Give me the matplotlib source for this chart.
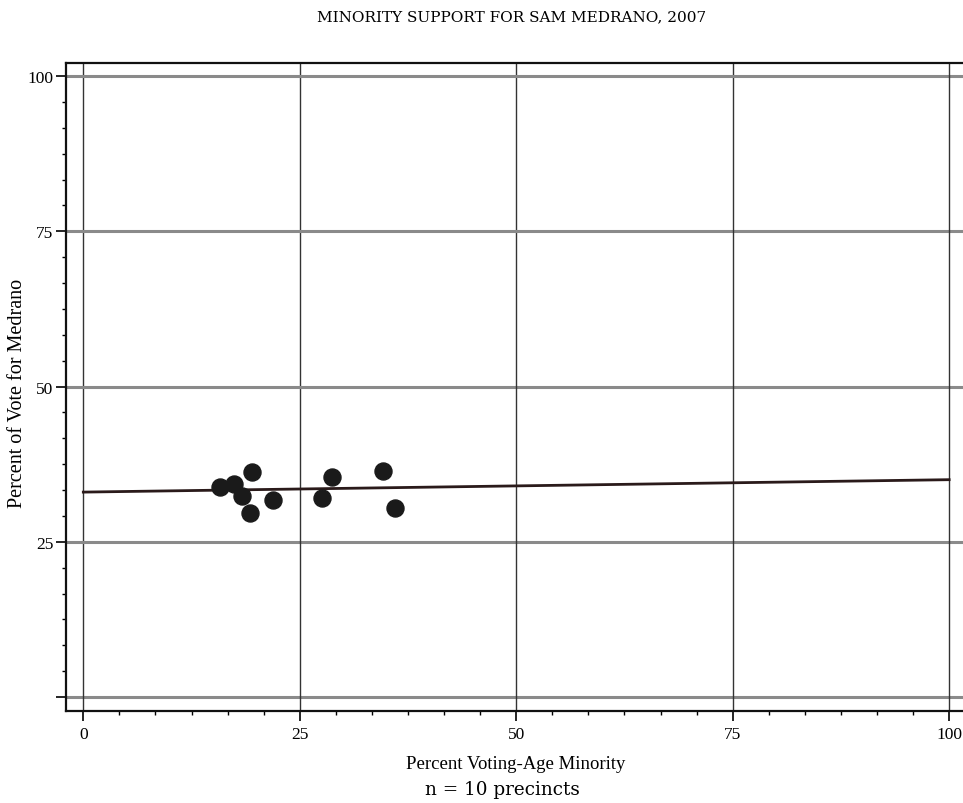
import matplotlib
matplotlib.use("Agg")
import matplotlib.pyplot as plt
from matplotlib.ticker import AutoMinorLocator

# Data
minority_pct = [15.8, 17.4, 18.3, 19.5, 19.3, 21.9, 28.7, 27.6, 34.6, 36.0]
vote_pct = [33.8, 34.3, 32.3, 36.3, 29.6, 31.8, 35.5, 32.1, 36.4, 30.5]
fit_x = [0, 100]
fit_y = [33.0, 35.0]
ticks = [0, 25, 50, 75, 100]
x_tick_labels = ["0", "25", "50", "75", "100"]
y_tick_labels = ["", "25", "50", "75", "100"]

plt.rcParams['font.family'] = ['Liberation Serif', 'DejaVu Serif']

fig = plt.figure(figsize=(9.63, 8.04), dpi=100)
ax = fig.add_axes([66/963, 1-712/804, (963-66)/963, (712-64)/804])

ax.set_xlim(-2.0, 101.6)
ax.set_ylim(-2.25, 102.1)

for t in ticks:
    ax.axhline(t, color="#8a8a8a", lw=2.2, zorder=1)
    ax.axvline(t, color="#333333", lw=1.0, zorder=1)

ax.plot(fit_x, fit_y, color="#2a1a1a", lw=2.0, zorder=2)
ax.scatter(minority_pct, vote_pct, s=150, color="#1a1a1a", zorder=3)

ax.set_xticks(ticks)
ax.set_xticklabels(x_tick_labels)
ax.set_yticks(ticks)
ax.set_yticklabels(y_tick_labels)
ax.xaxis.set_minor_locator(AutoMinorLocator(6))
ax.yaxis.set_minor_locator(AutoMinorLocator(6))
ax.tick_params(which="major", direction="out", length=7, width=1.2, labelsize=12.5)
ax.tick_params(axis="x", which="major", pad=4)
ax.tick_params(axis="y", which="major", pad=2)
ax.tick_params(which="minor", direction="out", length=3, width=1.0)

for s in ax.spines.values():
    s.set_linewidth(1.6)
    s.set_color("#111111")
ax.spines["right"].set_visible(False)

fig.text(512/963, 1-17/804, "MINORITY SUPPORT FOR SAM MEDRANO, 2007",
         ha="center", va="center", fontsize=11, family=["DejaVu Serif"])
fig.text(516/963, 1-765/804, "Percent Voting-Age Minority", ha="center", va="center", fontsize=13.5)
fig.text(502/963, 1-790/804, "n = 10 precincts", ha="center", va="center", fontsize=13.2,
         family=["DejaVu Serif"])
fig.text(18/963, 1-393/804, "Percent of Vote for Medrano", ha="center", va="center",
         rotation=90, fontsize=14.5)

fig.savefig("out.png", dpi=100)
